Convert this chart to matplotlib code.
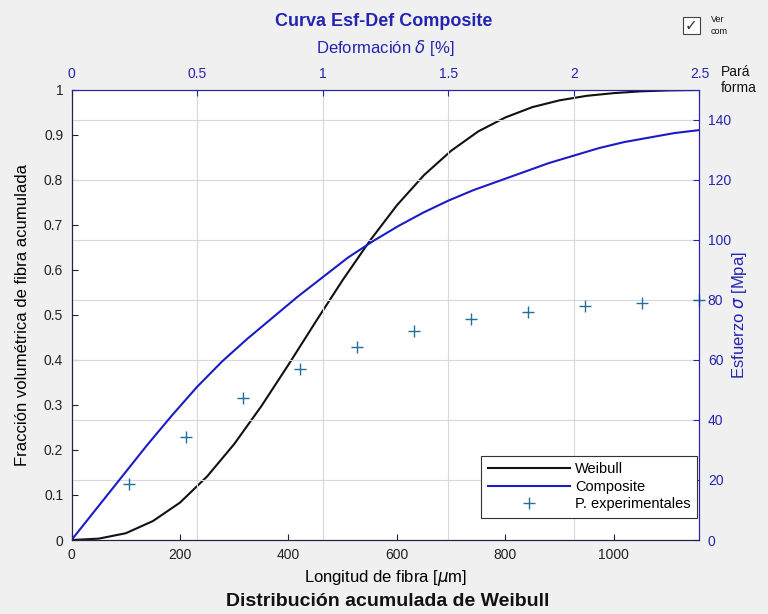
import matplotlib
matplotlib.use("Agg")
import matplotlib.pyplot as plt
from matplotlib.patches import Rectangle

plt.rcParams['font.family'] = ['Liberation Sans', 'DejaVu Sans']
plt.rcParams['mathtext.fontset'] = 'dejavusans'

# Weibull acumulada (eje inferior / izquierdo)
longitud = [0, 50, 100, 150, 200, 250, 300, 350, 400, 450, 500, 550, 600,
            650, 700, 750, 800, 850, 900, 950, 1000, 1050, 1100, 1158]
weibull = [0, 0.003, 0.015, 0.042, 0.083, 0.141, 0.213, 0.297, 0.389, 0.484,
           0.577, 0.664, 0.743, 0.810, 0.864, 0.907, 0.938, 0.961, 0.976,
           0.986, 0.992, 0.996, 0.998, 0.999]

# Curva esfuerzo-deformacion del composite (eje superior / derecho)
deformacion = [0, 0.1, 0.2, 0.3, 0.4, 0.5, 0.6, 0.7, 0.8, 0.9, 1.0, 1.1, 1.2,
               1.3, 1.4, 1.5, 1.6, 1.7, 1.8, 1.9, 2.0, 2.1, 2.2, 2.3, 2.4, 2.5]
esfuerzo = [0, 10.5, 21, 31.5, 41.5, 51, 59.5, 67, 74, 81, 87.5, 94, 99.5,
            104.5, 109, 113, 116.5, 119.5, 122.5, 125.5, 128, 130.5, 132.5,
            134, 135.5, 136.5]

# Puntos experimentales
def_exp = [0.227, 0.455, 0.682, 0.909, 1.136, 1.364, 1.591, 1.818, 2.045, 2.273, 2.5]
esf_exp = [18.6, 34.4, 47.2, 56.9, 64.2, 69.6, 73.6, 75.9, 77.9, 78.8, 79.9]

azul = '#2424b0'
linea_azul = '#1c1cc4'
fs = 10
fl = 12

fig = plt.figure(figsize=(7.68, 6.14), dpi=100, facecolor='#f0f0f0')
pos = [0.0931, 0.1205, 0.8177, 0.7337]

ax1 = fig.add_axes(pos)
ax1.set_facecolor('white')
l1, = ax1.plot(longitud, weibull, color='#111111', lw=1.5, label='Weibull')
ax1.set_xlim(0, 1158)
ax1.set_ylim(0, 1)
ax1.set_xticks([0, 200, 400, 600, 800, 1000])
ax1.set_yticks([i / 10 for i in range(11)])
ax1.set_yticklabels(['0', '0.1', '0.2', '0.3', '0.4', '0.5', '0.6', '0.7', '0.8', '0.9', '1'])
ax1.tick_params(direction='in', length=4, labelsize=fs, pad=6, colors='#222222',
                top=False, right=False)
for s in ax1.spines.values():
    s.set_color('#22224a')
ax1.set_xlabel(r'Longitud de fibra [$\mu$m]', fontsize=fl, va='center')
ax1.xaxis.set_label_coords(0.5, -0.085)
ax1.set_ylabel('Fracción volumétrica de fibra acumulada', fontsize=fl, va='center')
ax1.yaxis.set_label_coords(-0.0788, 0.5)

ax2 = fig.add_axes(pos, frameon=True)
ax2.patch.set_visible(False)
l2, = ax2.plot(deformacion, esfuerzo, color=linea_azul, lw=1.5, label='Composite')
l3, = ax2.plot(def_exp, esf_exp, '+', color='#22709a', ms=9, mew=1.0,
               label='P. experimentales', clip_on=False)
ax2.set_xlim(0, 2.5)
ax2.set_ylim(0, 150)
ax2.xaxis.tick_top()
ax2.yaxis.tick_right()
ax2.xaxis.set_label_position('top')
ax2.yaxis.set_label_position('right')
ax2.set_xticks([0, 0.5, 1, 1.5, 2, 2.5])
ax2.set_xticklabels(['0', '0.5', '1', '1.5', '2', '2.5'])
ax2.set_yticks(range(0, 141, 20))
ax2.tick_params(direction='in', length=4, labelsize=fs, pad=6, colors=azul)
ax2.grid(True, color='#d6d6e4', lw=0.8)
ax2.set_axisbelow(True)
for s in ax2.spines.values():
    s.set_color(azul)
ax2.spines['left'].set_color('#22224a')
ax2.spines['bottom'].set_color('#22224a')
ax2.set_xlabel(r'Deformación $\delta$ [%]', fontsize=fl, color=azul, va='center')
ax2.xaxis.set_label_coords(0.5, 1.092)
ax2.set_ylabel(r'Esfuerzo $\sigma$ [Mpa]', fontsize=fl, color=azul, va='center')
ax2.yaxis.set_label_coords(1.063, 0.5)

leg = ax2.legend([l1, l2, l3], ['Weibull', 'Composite', 'P. experimentales'],
                 loc='lower right', bbox_to_anchor=(0.996, 0.049), borderaxespad=0,
                 fontsize=10.5, fancybox=False, framealpha=1, edgecolor='#333333',
                 handlelength=5.6, handletextpad=0.35, labelspacing=0.25,
                 borderpad=0.45)
leg.get_frame().set_linewidth(0.8)

fig.text(0.4995, 1 - 22 / 614, 'Curva Esf-Def Composite', ha='center', va='center',
         fontsize=13, fontweight='bold', color=azul)
fig.text(0.505, 1 - 602 / 614, 'Distribución acumulada de Weibull', ha='center',
         va='center', fontsize=14, fontweight='bold', color='#111111')

# elementos de la interfaz a la derecha
fig.patches.append(Rectangle((683 / 768, 1 - 34 / 614), 17 / 768, 17 / 614,
                             transform=fig.transFigure, facecolor='white',
                             edgecolor='#444444', lw=0.8))
fig.text(691.5 / 768, 1 - 25.5 / 614, '✓', ha='center', va='center',
         fontsize=11, color='#333333', family='DejaVu Sans')
fig.text(711 / 768, 1 - 20 / 614, 'Ver', fontsize=6.5, va='center', color='#111111')
fig.text(711 / 768, 1 - 31 / 614, 'com', fontsize=6.5, va='center', color='#111111')
fig.text(721 / 768, 1 - 72 / 614, 'Pará', fontsize=10, va='center', color='#111111')
fig.text(721 / 768, 1 - 88 / 614, 'forma', fontsize=10, va='center', color='#111111')

fig.savefig('out.png', dpi=100, facecolor=fig.get_facecolor())
